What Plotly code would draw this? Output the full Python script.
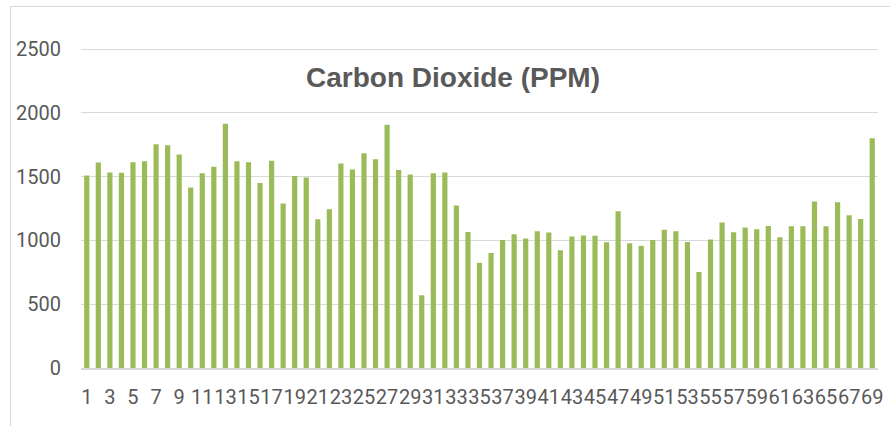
import plotly.graph_objects as go

days = list(range(1, 70))
co2_ppm = [1509, 1611, 1532, 1530, 1613, 1621, 1755, 1747, 1674, 1415,
           1527, 1577, 1914, 1621, 1613, 1451, 1624, 1289, 1506, 1493,
           1166, 1245, 1603, 1556, 1684, 1637, 1906, 1553, 1517, 570,
           1527, 1532, 1274, 1067, 824, 902, 1004, 1049, 1015, 1072,
           1062, 923, 1030, 1038, 1036, 986, 1229, 978, 957, 1004,
           1083, 1072, 988, 753, 1007, 1140, 1064, 1101, 1088, 1114,
           1025, 1111, 1111, 1305, 1111, 1300, 1198, 1169, 1802]
tick_days = [d for d in days if d % 2 == 1]
tick_labels = [str(d) for d in tick_days]
y_ticks = [0, 500, 1000, 1500, 2000, 2500]

fig = go.Figure(go.Bar(x=days, y=co2_ppm, marker=dict(color="#9BBB59", line=dict(width=0))))

fig.update_layout(
    width=890, height=426,
    margin=dict(l=81, r=12, t=44, b=58),
    paper_bgcolor="white", plot_bgcolor="white",
    bargap=0.55, showlegend=False,
    font=dict(family="Roboto", color="#595959"),
)
fig.update_xaxes(
    type="linear", range=[0.5, 69.5], tickmode="array",
    tickvals=tick_days, ticktext=tick_labels, tickangle=0, automargin=False,
    tickfont=dict(size=20, family="Roboto", color="#595959"),
    showgrid=False, zeroline=False, showline=True, linecolor="#d9d9d9", linewidth=2,
    ticks="", ticklabelstandoff=10,
)
fig.update_yaxes(
    range=[0, 2540], tickmode="array", tickvals=y_ticks, automargin=False,
    tickfont=dict(size=20, family="Roboto", color="#595959"),
    showgrid=True, gridcolor="#d9d9d9", gridwidth=1, zeroline=False,
    showline=False, ticks="", ticklabelstandoff=19,
)
fig.add_annotation(
    text="<b>Carbon Dioxide (PPM)</b>", xref="paper", yref="paper",
    x=(453 - 81) / 797, y=(368 - 77) / 324, xanchor="center", yanchor="middle",
    showarrow=False, font=dict(size=28, family="Liberation Sans", color="#595959"),
)
fig.add_shape(
    type="rect", xref="paper", yref="paper",
    x0=(10.5 - 81) / 797, x1=1.2, y0=-0.4, y1=(368 - 6.5) / 324,
    line=dict(color="#d9d9d9", width=1), fillcolor="rgba(0,0,0,0)", layer="below",
)
fig.write_html("out.html", config={"displayModeBar": False},
               post_script="document.body.style.margin='0';")
